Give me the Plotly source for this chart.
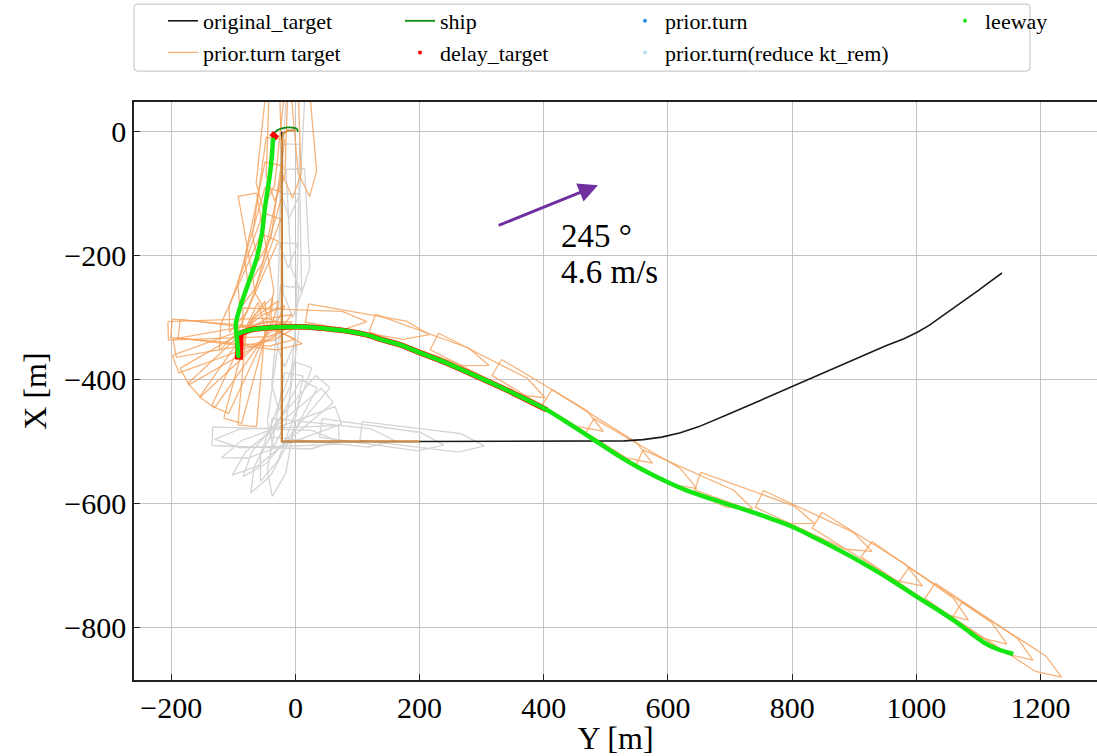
import numpy as np
import plotly.graph_objects as go

FONT = "Liberation Serif"

# ship outline dimensions [m]
SHIP_LENGTH = 200.0
SHIP_BEAM = 30.0
BOW_TAPER = 40.0

# wind
WIND_DIR_DEG = 245
WIND_SPEED = 4.6
WIND_ARROW_TAIL = (325, -152)
WIND_ARROW_LEN = 175

# original target route (Y east, X north)
orig_east = [-22, -22, 200, 500, 530, 560, 590, 620, 650, 700, 750, 800, 850, 900, 950, 980,
             1001, 1020, 1040, 1060, 1080, 1100, 1120, 1138]
orig_north = [0, -500, -500, -500, -499, -497, -493, -486, -476, -455, -433, -412, -390, -368,
              -346, -334, -324, -313, -299, -284, -270, -256, -241, -228]

# prior.turn target route
pt_east = [0, -12, -20, -22, -22, 200]
pt_north = [2, 2, -3, -15, -500, -500]

# ship track start (before the leeway samples)
ship_head_east = [4, 2, -10, -20, -30, -36]
ship_head_north = [0, 5, 7, 6, 2, -8]

# leeway track
lw_east = [-36, -38, -41, -45, -49, -54, -62, -76, -89, -96, -94, -92, -93, -94, -73, -40, -18, 20,
           51, 85, 115, 140, 169, 201, 235, 270, 310, 351, 405, 445, 485, 525, 560, 598, 630, 667,
           705, 742, 770, 801, 830, 856, 890, 920, 960, 1000, 1035, 1065, 1090, 1108, 1130, 1156]
lw_north = [-10, -40, -68, -95, -122, -165, -203, -245, -283, -310, -335, -362, -345, -328, -320, -316,
            -315, -315, -318, -322, -328, -336, -344, -357, -370, -385, -403, -422, -449, -474, -500,
            -526, -546, -565, -579, -592, -604, -616, -626, -638, -652, -665, -683, -700, -724, -750,
            -772, -792, -811, -824, -835, -843]

# delay_target samples: stops at start and at the turn, and the following leg
delay_stop_east = [-37, -31, None, -90, -91, -91]
delay_stop_north = [-10, -3, None, -328, -345, -368]
delay_leg_east = [-94, -73, -40, -18, 20, 51, 85, 115, 140, 169, 201, 235, 270, 310, 351, 405]
delay_leg_north = [-328, -320, -316, -315, -315, -318, -322, -328, -336, -344, -357, -370, -385, -403, -422, -449]

# prior.turn target hull snapshots: centre east, centre north, heading [deg]
tgt_east = [14, -8, -30, -42,
            -46, -55, -62, -72, -82, -60,
            -105, -100, -96, -99, -90, -79, -69, -85, -88, -92, -75,
            15, 117, 218, 313, 410, 490, 560, 645, 742, 838, 925, 1002, 1063, 1105, 1150]
tgt_north = [-5, -8, -12, -25,
             -110, -150, -190, -230, -262, -200,
             -318, -326, -332, -341, -349, -358, -375, -355, -330, -345, -370,
             -303, -310, -343, -384, -432, -482, -526, -568, -598, -635, -680, -731, -771, -797, -826]
tgt_heading = [175, 178, 182, 186,
               188, 192, 196, 200, 204, 170,
               88, 95, 80, 70, 47, 25, 5, 35, 97, 60, 15,
               92, 100, 110, 117, 121, 122, 120, 114, 110, 115, 122, 125, 124, 124, 123]

# original target hull snapshots
org_east = [-5, -10, -6, -14, -18, -22, 5,
            -20, -25, -25, -25, -30, -34, 60, 140, 205, -22, -20]
org_north = [-40, -120, -200, -280, -350, -410, -160,
             -490, -495, -490, -492, -493, -495, -488, -492, -495, -470, -480]
org_heading = [183, 181, 179, 182, 185, 188, 177,
               190, 208, 230, 250, 268, 92, 96, 98, 97, 200, 220]


def hull_outlines(east, north, heading):
    """Closed hull polygons, separated by None, in (east, north)."""
    L, B, T = SHIP_LENGTH, SHIP_BEAM, BOW_TAPER
    local = [(-L / 2, -B / 2), (L / 2 - T, -B / 2), (L / 2, 0.0),
             (L / 2 - T, B / 2), (-L / 2, B / 2), (-L / 2, -B / 2)]
    xs, ys = [], []
    for cx, cy, h in zip(east, north, heading):
        r = np.deg2rad(h)
        s, c = np.sin(r), np.cos(r)
        for a, b in local:
            xs.append(cx + a * s + b * c)
            ys.append(cy + a * c - b * s)
        xs.append(None)
        ys.append(None)
    return xs, ys


fig = go.Figure()

ox, oy = hull_outlines(org_east, org_north, org_heading)
fig.add_trace(go.Scatter(x=ox, y=oy, mode="lines", line=dict(color="#d4d4d4", width=1.3),
                         showlegend=False, hoverinfo="skip"))

tx, ty = hull_outlines(tgt_east, tgt_north, tgt_heading)
fig.add_trace(go.Scatter(x=tx, y=ty, mode="lines", name="prior.turn target",
                         line=dict(color="rgba(244,160,90,0.8)", width=1.3),
                         legend="legend", legendrank=2, hoverinfo="skip"))

fig.add_trace(go.Scatter(x=orig_east, y=orig_north, mode="lines", name="original_target",
                         line=dict(color="#1a1a1a", width=1.6), legend="legend", legendrank=1))

fig.add_trace(go.Scatter(x=pt_east, y=pt_north, mode="lines", line=dict(color="#d08a3c", width=2),
                         showlegend=False))

fig.add_trace(go.Scatter(x=ship_head_east + lw_east, y=ship_head_north + lw_north, mode="lines",
                         name="ship", line=dict(color="#128a12", width=1.8, shape="spline", smoothing=0.8),
                         legend="legend2", legendrank=1))

fig.add_trace(go.Scatter(x=delay_stop_east, y=delay_stop_north, mode="lines",
                         line=dict(color="#ff0000", width=8), showlegend=False))
fig.add_trace(go.Scatter(x=delay_leg_east, y=delay_leg_north, mode="lines",
                         line=dict(color="#ff0000", width=5.5, shape="spline", smoothing=0.8),
                         showlegend=False))
fig.add_trace(go.Scatter(x=[None], y=[None], mode="markers", name="delay_target",
                         marker=dict(color="#ff0000", size=4), legend="legend2", legendrank=2))

fig.add_trace(go.Scatter(x=[None], y=[None], mode="markers", name="prior.turn",
                         marker=dict(color="#2f8fe8", size=4), legend="legend3", legendrank=1))
fig.add_trace(go.Scatter(x=[None], y=[None], mode="markers", name="prior.turn(reduce kt_rem)",
                         marker=dict(color="#b7dff2", size=4), legend="legend3", legendrank=2))

fig.add_trace(go.Scatter(x=lw_east, y=lw_north, mode="lines",
                         line=dict(color="#14e614", width=4.5, shape="spline", smoothing=0.8),
                         showlegend=False))
fig.add_trace(go.Scatter(x=[None], y=[None], mode="markers", name="leeway",
                         marker=dict(color="#14e614", size=4), legend="legend4", legendrank=1))

# wind arrow: points downwind
arrow_bearing = np.deg2rad(WIND_DIR_DEG - 180 + 3)
ax0, ay0 = WIND_ARROW_TAIL
hx = ax0 + WIND_ARROW_LEN * np.sin(arrow_bearing)
hy = ay0 + WIND_ARROW_LEN * np.cos(arrow_bearing)
fig.add_annotation(x=hx, y=hy, ax=ax0, ay=ay0, xref="x", yref="y", axref="x", ayref="y",
                   text="", showarrow=True, arrowhead=2, arrowsize=1.3, arrowwidth=3,
                   arrowcolor="#7030a0", standoff=0, startstandoff=0)
fig.add_annotation(x=424, y=-168, xref="x", yref="y", text=f"{WIND_DIR_DEG} °", showarrow=False,
                   xanchor="left", yanchor="middle", font=dict(family=FONT, size=33, color="black"))
fig.add_annotation(x=424, y=-226, xref="x", yref="y", text=f"{WIND_SPEED} m/s", showarrow=False,
                   xanchor="left", yanchor="middle", font=dict(family=FONT, size=33, color="black"))

# legend frame
W, H = 963.0, 579.0
x0, x1 = 0.0, 896 / W
y0, y1 = 1 + 31 / H, 1 + 98 / H
rx, ry = 4 / W, 4 / H
frame = (f"M{x0+rx},{y1} L{x1-rx},{y1} Q{x1},{y1} {x1},{y1-ry} L{x1},{y0+ry} Q{x1},{y0} {x1-rx},{y0} "
         f"L{x0+rx},{y0} Q{x0},{y0} {x0},{y0+ry} L{x0},{y1-ry} Q{x0},{y1} {x0+rx},{y1} Z")
fig.add_shape(type="path", path=frame, xref="paper", yref="paper",
              line=dict(color="#cccccc", width=1.2), fillcolor="rgba(255,255,255,0.8)", layer="above")

leg_common = dict(y=1 + 102 / H, yanchor="top", xanchor="left", bgcolor="rgba(0,0,0,0)",
                  borderwidth=0, font=dict(family=FONT, size=22, color="black"),
                  tracegroupgap=0, orientation="v")
axis_common = dict(showgrid=True, gridcolor="#c4c4c4", gridwidth=1.2, zeroline=False,
                   showline=True, linecolor="#222222", linewidth=1.5, ticks="inside", ticklen=6,
                   tickcolor="#222222", tickwidth=1.2,
                   tickfont=dict(family=FONT, size=30, color="black"))

fig.update_layout(
    width=1097, height=756,
    margin=dict(l=134, r=0, t=101, b=76),
    paper_bgcolor="white", plot_bgcolor="white",
    font=dict(family=FONT, color="black"),
    legend=dict(x=29 / W, **leg_common),
    legend2=dict(x=266 / W, **leg_common),
    legend3=dict(x=491 / W, **leg_common),
    legend4=dict(x=811 / W, **leg_common),
    xaxis=dict(range=[-260, 1291], tickvals=[-200, 0, 200, 400, 600, 800, 1000, 1200],
               mirror=True, title=dict(text="Y [m]", font=dict(family=FONT, size=32), standoff=8),
               **axis_common),
    yaxis=dict(range=[-885, 48], tickvals=[-800, -600, -400, -200, 0], mirror=False,
               title=dict(text="X [m]", font=dict(family=FONT, size=32), standoff=8),
               **axis_common),
)

fig.write_html("out.html")
